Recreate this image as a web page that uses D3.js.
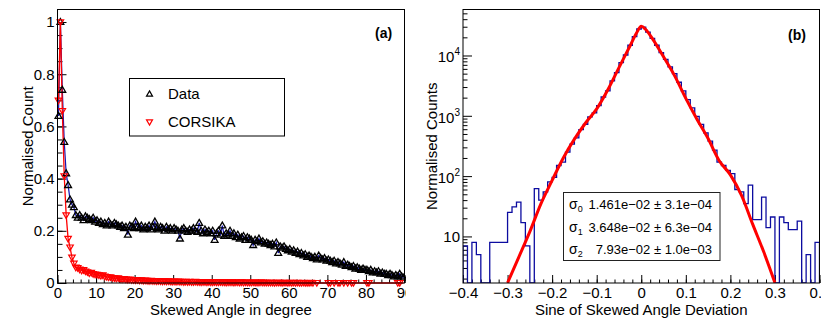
<!DOCTYPE html>
<html><head><meta charset="utf-8">
<script src="https://cdn.jsdelivr.net/npm/d3@7"></script>
<style>
body{margin:0;background:#fff}
text{font-family:"Liberation Sans",Arial,Helvetica,sans-serif;fill:#000}
</style>
</head><body><svg id="c" width="830" height="327"></svg>
<script>
// ---------------- Panel (a) data ----------------
const angleBinWidth = 0.5; // degrees
const dataCounts = [
 0.64,1.0,0.74,0.54,0.42,0.375,0.32,0.30,0.29,0.26,
 0.25,0.26,0.25,0.24,0.255,0.25,0.245,0.24,0.25,0.235,
 0.24,0.23,0.235,0.225,0.23,0.22,0.235,0.225,0.22,0.23,
 0.225,0.22,0.215,0.22,0.21,0.215,0.185,0.22,0.215,0.21,
 0.235,0.215,0.21,0.22,0.205,0.215,0.21,0.22,0.205,0.215,
 0.235,0.21,0.205,0.215,0.21,0.2,0.215,0.205,0.21,0.2,
 0.21,0.205,0.2,0.17,0.205,0.21,0.2,0.195,0.205,0.2,
 0.21,0.2,0.195,0.23,0.2,0.19,0.205,0.195,0.2,0.19,
 0.2,0.165,0.19,0.2,0.185,0.22,0.18,0.19,0.185,0.2,
 0.18,0.19,0.175,0.185,0.17,0.175,0.18,0.165,0.175,0.17,
 0.165,0.145,0.165,0.16,0.17,0.155,0.16,0.15,0.155,0.15,
 0.145,0.15,0.14,0.155,0.115,0.14,0.135,0.14,0.13,0.125,
 0.13,0.12,0.125,0.115,0.12,0.11,0.115,0.105,0.11,0.1,
 0.105,0.1,0.095,0.1,0.09,0.105,0.095,0.09,0.095,0.085,
 0.09,0.085,0.08,0.085,0.075,0.08,0.075,0.07,0.08,0.065,
 0.07,0.065,0.06,0.065,0.055,0.06,0.055,0.05,0.055,0.05,
 0.05,0.045,0.05,0.04,0.045,0.04,0.045,0.035,0.04,0.035,
 0.035,0.03,0.035,0.03,0.025,0.03,0.025,0.035,0.025,0.02
];
const corsikaCounts = [
 0.70,1.0,0.66,0.41,0.26,0.17,0.137,0.098,0.075,0.06,
 0.058,0.052,0.048,0.05,0.045,0.042,0.038,0.04,0.035,0.033,
 0.032,0.03,0.028,0.03,0.025,0.024,0.022,0.023,0.02,0.019,
 0.018,0.019,0.016,0.015,0.016,0.014,0.013,0.014,0.012,0.012,
 0.011,0.012,0.01,0.011,0.009,0.01,0.009,0.008,0.009,0.008,
 0.008,0.007,0.008,0.007,0.006,0.007,0.006,0.007,0.006,0.005,
 0.006,0.005,0.006,0.005,0.005,0.004,0.005,0.004,0.005,0.004,
 0.004,0.005,0.004,0.004,0.003,0.004,0.004,0.003,0.004,0.003,
 0.003,0.004,0.003,0.003,0.004,0.003,0.003,0.002,0.003,0.003,
 0.003,0.002,0.003,0.003,0.002,0.003,0.002,0.003,0.002,0.002,
 0.002,0.003,0.002,0.002,0.002,0.003,0.002,0.002,0.002,0.002,
 0.002,0.002,0.001,0.002,0.002,0.002,0.001,0.002,0.002,0.001,
 0.002,0.001,0.002,0.001,0.002,0.001,0.001,0.002,0.001,0.001,
 0.001,0.002,0.001,0,0.001,0,0,0,0,0,
 0.001,0.001,0,0.001,0,0.001,0.001,0,0.001,0,
 0.001,0,0.001,0.001,0,0,0,0,0,0,
 0.001,0.001,0,0,0,0,0,0,0,0,
 0,0,0,0,0,0,0.001,0.001,0,0
];
const xTicksA = [0,10,20,30,40,50,60,70,80,90];
const xTickLabelsA = ["0","10","20","30","40","50","60","70","80","90"];
const yTicksA = [0,0.2,0.4,0.6,0.8,1.0];
const yTickLabelsA = ["0","0.2","0.4","0.6","0.8","1"];
const legendLabels = ["Data","CORSIKA"];

// ---------------- Panel (b) data ----------------
const histLow = -0.4, histBinWidth = 0.01;
const histCounts = [
 7,0,8,5,0,0,8,8,8,8,
 25,31,37,17,7,0,62,40,55,80,
 95,150,170,250,340,430,590,720,960,1120,
 1480,2050,2600,3800,5200,7600,10200,14800,20500,27500,
 29500,24500,19200,14800,11200,8600,6500,5000,3600,2600,
 1850,1350,980,720,520,380,270,170,150,125,
 110,60,55,35,71,19,19,45,14,21,
 0,21,17,13,13,18,0,5,0,8
];
const fitX = [-0.30,-0.275,-0.25,-0.225,-0.20,-0.175,-0.15,-0.125,-0.10,-0.075,-0.05,-0.025,-0.01,0,
  0.01,0.025,0.05,0.075,0.10,0.125,0.15,0.175,0.20,0.225,0.25,0.275,0.30];
const fitY = [1.7,4.5,12,35,85,200,410,760,1300,2700,6300,14500,24000,30500,
  27000,19000,9500,4600,1950,880,420,180,105,48,16,5.5,1.7];
const xTicksB = [-0.4,-0.3,-0.2,-0.1,0,0.1,0.2,0.3,0.4];
const xTickLabelsB = ["\u22120.4","\u22120.3","\u22120.2","\u22120.1","0","0.1","0.2","0.3","0.4"];
const yTicksB = [10,100,1000,10000];
const yTickExpB = ["","2","3","4"];
const statNames = ["0","1","2"];
const statValues = ["1.461e\u221202 \u00b1 3.1e\u221204","3.648e\u221202 \u00b1 6.3e\u221204","7.93e\u221202 \u00b1 1.0e\u221203"];

// ---------------- drawing ----------------
const svg = d3.select("#c");
svg.append("rect").attr("width",830).attr("height",327).attr("fill","#fff");
const defs = svg.append("defs");
defs.append("clipPath").attr("id","padA").append("rect").attr("x",0).attr("y",0).attr("width",406).attr("height",327);
defs.append("clipPath").attr("id","padB").append("rect").attr("x",410).attr("y",0).attr("width",411).attr("height",327);

function triPath(s, down){
  const h = s*0.866, k = down?-1:1;
  return `M0,${-k*h*0.6}L${s/2},${k*h*0.4}L${-s/2},${k*h*0.4}Z`;
}

// ===== Panel A =====
const A = {l:57.5,r:404.5,t:9.5,b:283};
const xA = d3.scaleLinear().domain([0,90]).range([A.l,A.r]);
const yA = d3.scaleLinear().domain([0,1.048]).range([A.b,A.t]);
const gA = svg.append("g").attr("clip-path","url(#padA)");

// minor ticks
gA.append("g").attr("transform",`translate(0,${A.b})`)
  .call(d3.axisBottom(xA).tickValues(d3.range(0,91,2)).tickSize(-3.5).tickFormat(""))
  .call(g=>g.select(".domain").remove());
gA.append("g").attr("transform",`translate(${A.l},0)`)
  .call(d3.axisLeft(yA).tickValues(d3.range(0,1.04,0.05)).tickSize(-5).tickFormat(""))
  .call(g=>g.select(".domain").remove());
// major ticks
gA.append("g").attr("transform",`translate(0,${A.b})`)
  .call(d3.axisBottom(xA).tickValues(xTicksA).tickSize(-8).tickPadding(4).tickFormat((d,i)=>xTickLabelsA[i]))
  .call(g=>g.select(".domain").remove())
  .call(g=>g.selectAll("text").attr("font-size",15).attr("font-family","Liberation Sans, Arial"));
gA.append("g").attr("transform",`translate(${A.l},0)`)
  .call(d3.axisLeft(yA).tickValues(yTicksA).tickSize(-9).tickPadding(3).tickFormat((d,i)=>yTickLabelsA[i]))
  .call(g=>g.select(".domain").remove())
  .call(g=>g.selectAll("text").attr("font-size",15).attr("font-family","Liberation Sans, Arial"));
gA.selectAll(".tick line").attr("stroke","#000");

const centersA = dataCounts.map((d,i)=>(i+0.5)*angleBinWidth);
const lineA = d3.line().x((d,i)=>xA(centersA[i])).y(d=>yA(d));
gA.append("path").datum(dataCounts).attr("d",lineA).attr("fill","none").attr("stroke","#1414b4").attr("stroke-width",1.2);
gA.append("path").datum(corsikaCounts).attr("d",lineA).attr("fill","none").attr("stroke","#ff0000").attr("stroke-width",1.3);
gA.selectAll(".md").data(dataCounts).enter().append("path")
  .attr("d",triPath(6.8,false)).attr("transform",(d,i)=>`translate(${xA(centersA[i])},${yA(d)})`)
  .attr("fill","none").attr("stroke","#000").attr("stroke-width",1.3);
gA.selectAll(".mc").data(corsikaCounts.map((d,i)=>[i,d]).filter(p=>p[1]>0)).enter().append("path")
  .attr("d",triPath(6.5,true)).attr("transform",p=>`translate(${xA(centersA[p[0]])},${yA(p[1])})`)
  .attr("fill","none").attr("stroke","#ff0000").attr("stroke-width",1.2);

gA.append("rect").attr("x",A.l).attr("y",A.t).attr("width",A.r-A.l).attr("height",A.b-A.t)
  .attr("fill","none").attr("stroke","#000").attr("stroke-width",1);

// legend
const lg = gA.append("g");
lg.append("rect").attr("x",129.5).attr("y",78.5).attr("width",155).attr("height",57.5)
  .attr("fill","#fff").attr("stroke","#000").attr("stroke-width",1);
lg.append("path").attr("d",triPath(6,false)).attr("transform","translate(149.5,94)").attr("fill","none").attr("stroke","#000").attr("stroke-width",1.2);
lg.append("path").attr("d",triPath(6,true)).attr("transform","translate(149.5,122)").attr("fill","none").attr("stroke","#ff0000").attr("stroke-width",1.2);
lg.selectAll("text.lt").data(legendLabels).enter().append("text")
  .attr("x",168).attr("y",(d,i)=>94+28*i).attr("dy","0.35em").attr("font-size",15).text(d=>d);

gA.append("text").attr("x",375).attr("y",38).attr("font-size",14).attr("font-weight","bold").text("(a)");
gA.append("text").attr("x",(A.l+A.r)/2).attr("y",315).attr("text-anchor","middle").attr("font-size",15).text("Skewed Angle in degree");
gA.append("text").attr("transform",`translate(33,${(A.t+A.b)/2}) rotate(-90)`).attr("text-anchor","middle").attr("font-size",15).text("Normalised Count");

// ===== Panel B =====
const B = {l:463,r:819.5,t:9.5,b:283};
const xB = d3.scaleLinear().domain([-0.4,0.4]).range([B.l,B.r]);
const yB = d3.scaleLog().domain([1.69,57900]).range([B.b,B.t]).clamp(true);
const gB = svg.append("g").attr("clip-path","url(#padB)");
defs.append("clipPath").attr("id","clipB").append("rect").attr("x",B.l).attr("y",B.t).attr("width",B.r-B.l).attr("height",B.b-B.t);

const minorLog = [];
for (let e=0;e<=4;e++) for (let m=2;m<=9;m++){ const v=m*Math.pow(10,e); if(v>=1.69&&v<=57900) minorLog.push(v); }
gB.append("g").attr("transform",`translate(${B.l},0)`)
  .call(d3.axisLeft(yB).tickValues(minorLog).tickSize(-4.5).tickFormat(""))
  .call(g=>g.select(".domain").remove());
gB.append("g").attr("transform",`translate(${B.l},0)`)
  .call(d3.axisLeft(yB).tickValues(yTicksB).tickSize(-9).tickFormat(""))
  .call(g=>g.select(".domain").remove());
gB.append("g").attr("transform",`translate(0,${B.b})`)
  .call(d3.axisBottom(xB).tickValues(d3.range(-20,21).map(k=>k*0.02)).tickSize(-3.5).tickFormat(""))
  .call(g=>g.select(".domain").remove());
gB.append("g").attr("transform",`translate(0,${B.b})`)
  .call(d3.axisBottom(xB).tickValues(xTicksB).tickSize(-8).tickPadding(4).tickFormat((d,i)=>xTickLabelsB[i]))
  .call(g=>g.select(".domain").remove())
  .call(g=>g.selectAll("text").attr("font-size",15).attr("font-family","Liberation Sans, Arial"));
gB.selectAll(".tick line").attr("stroke","#000");

// y labels with superscripts
yTicksB.forEach((v,i)=>{
  const t = gB.append("text").attr("text-anchor","end").attr("font-size",15);
  if (yTickExpB[i]===""){
    t.attr("x",B.l-3).attr("y",yB(v)+5.3).text("10");
  } else {
    t.attr("x",B.l-3).attr("y",yB(v)+7);
    t.append("tspan").text("10");
    t.append("tspan").attr("font-size",10).attr("dy",-7).text(yTickExpB[i]);
  }
});

// histogram
const histPts = [[histLow,0]];
histCounts.forEach((c,k)=>{ histPts.push([histLow+k*histBinWidth,c]); histPts.push([histLow+(k+1)*histBinWidth,c]); });
histPts.push([histLow+histCounts.length*histBinWidth,0]);
gB.append("path").datum(histPts).attr("clip-path","url(#clipB)")
  .attr("d",d3.line().x(p=>xB(p[0])).y(p=>p[1]>0?yB(p[1]):B.b))
  .attr("fill","none").attr("stroke","#0c0ca0").attr("stroke-width",1.3);
// fit
gB.append("path").datum(fitX.map((x,i)=>[x,fitY[i]])).attr("clip-path","url(#clipB)")
  .attr("d",d3.line().x(p=>xB(p[0])).y(p=>yB(p[1])).curve(d3.curveMonotoneX))
  .attr("fill","none").attr("stroke","#ff0000").attr("stroke-width",3);

gB.append("rect").attr("x",B.l).attr("y",B.t).attr("width",B.r-B.l).attr("height",B.b-B.t)
  .attr("fill","none").attr("stroke","#000").attr("stroke-width",1);

// stats box
const sb = gB.append("g");
sb.append("rect").attr("x",563.5).attr("y",192.5).attr("width",156.5).attr("height",68)
  .attr("fill","#fff").attr("stroke","#222").attr("stroke-width",1);
const statBase = [208.5,231.5,253.5];
statNames.forEach((n,i)=>{
  const t = sb.append("text").attr("x",569).attr("y",statBase[i]).attr("font-size",14);
  t.append("tspan").text("\u03c3");
  t.append("tspan").attr("font-size",9).attr("dy",3).text(n);
  sb.append("text").attr("x",712).attr("y",statBase[i]).attr("text-anchor","end").attr("font-size",13).text(statValues[i]);
});

gB.append("text").attr("x",788).attr("y",40).attr("font-size",14).attr("font-weight","bold").text("(b)");
gB.append("text").attr("x",(B.l+B.r)/2).attr("y",315).attr("text-anchor","middle").attr("font-size",15).text("Sine of Skewed Angle Deviation");
gB.append("text").attr("transform",`translate(437,${(B.t+B.b)/2}) rotate(-90)`).attr("text-anchor","middle").attr("font-size",15).text("Normalised Counts");
</script>
</body></html>
